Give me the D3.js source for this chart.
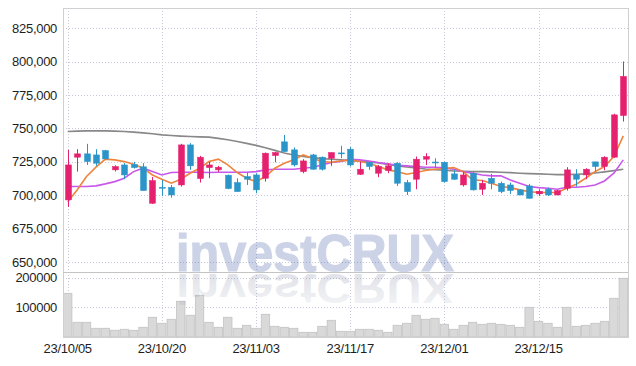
<!DOCTYPE html>
<html>
<head>
<meta charset="utf-8">
<script src="https://cdn.jsdelivr.net/npm/d3@7"></script>
<style>
body { margin: 0; background: #fff; }
svg { display: block; }
text { font-family: "Liberation Sans", Arial, sans-serif; }
</style>
</head>
<body>
<svg></svg>
<script>
var width = 636,
    height = 366;

var dates = ["23/10/05","23/10/06","23/10/10","23/10/11","23/10/12","23/10/13","23/10/16","23/10/17","23/10/18","23/10/19",
  "23/10/20","23/10/23","23/10/24","23/10/25","23/10/26","23/10/27","23/10/30","23/10/31","23/11/01","23/11/02",
  "23/11/03","23/11/06","23/11/07","23/11/08","23/11/09","23/11/10","23/11/13","23/11/14","23/11/15","23/11/16",
  "23/11/17","23/11/20","23/11/21","23/11/22","23/11/23","23/11/24","23/11/27","23/11/28","23/11/29","23/11/30",
  "23/12/01","23/12/04","23/12/05","23/12/06","23/12/07","23/12/08","23/12/11","23/12/12","23/12/13","23/12/14",
  "23/12/15","23/12/18","23/12/19","23/12/20","23/12/21","23/12/22","23/12/26","23/12/27","23/12/28","24/01/02"];

var open  = [696500,728500,731000,730200,733500,719000,722700,723000,721300,694000,
             706000,706000,707700,737700,712500,720700,719000,715000,709500,714000,
             715200,712700,729700,740000,734000,717700,730200,728500,727700,731700,
             734500,715700,724700,716500,718500,724000,709500,712000,727000,724900,
             724700,716000,707700,716500,704500,712700,709000,707700,704000,707000,
             701000,704500,700200,705200,715200,715200,725000,721500,728500,759700];
var high  = [734000,734500,738500,734500,734000,722400,724000,725000,724000,713700,
             711500,707700,738500,739000,729500,725000,722000,715500,712700,717000,
             716500,732000,732500,745200,735700,727000,731000,729000,732000,737000,
             736000,725200,725200,722700,724000,724700,711500,729000,731500,727700,
             725200,719000,717700,717700,711500,716000,710200,709500,704500,708500,
             704500,705700,704000,721000,719500,720200,725000,729200,761000,800200];
var low   = [691300,717700,722700,722000,727000,717800,712000,720000,703400,693500,
             699500,698200,706500,719000,709500,712700,717500,704500,702700,707700,
             701500,710200,724700,732700,721500,716500,719000,718500,722000,727700,
             721500,715200,719000,713500,716500,707000,700200,704500,722700,720200,
             709500,711500,706500,703500,700200,704500,701500,701000,700000,697500,
             699500,699500,700000,703500,706500,712000,717700,718700,728000,755200];
var close = [722700,731000,725200,724000,727200,721500,715200,720700,703500,711000,
             705800,700200,737700,722000,728500,722700,721000,705000,702700,712000,
             704000,731500,732000,732700,722700,725700,719500,719500,732000,731300,
             722700,719500,721500,721500,722000,709000,702700,727000,729000,724600,
             710200,712000,715200,704000,709000,709000,702700,703500,700200,697700,
             703000,700200,703500,719000,712000,719500,721500,728500,760200,789000];

var ma5  = [695200,704000,714000,721000,727000,726500,725200,723250,720250,715200,
            712000,709000,712000,716500,720250,725200,727000,722700,717000,712750,
            710200,714000,720250,724000,726500,730200,727750,725200,724750,725700,
            726500,725250,724000,721500,719000,717700,715750,717000,718500,719500,
            720000,720700,717700,711500,711000,709000,706500,705700,704000,702700,
            702000,702000,702000,705250,708250,712750,717700,721500,729000,744500];
var ma20 = [706500,706500,706500,707000,708500,710200,712750,717700,720250,717700,
            715200,717000,717250,717250,717250,717000,717250,717250,717250,717250,
            717700,719000,719500,719500,719500,720250,721000,722700,724500,725250,
            727000,726500,725700,724500,723500,722500,722000,721500,721000,721000,
            720500,719500,717700,716500,715200,714500,714500,711500,709000,706500,
            705700,705250,704500,706000,706000,706500,707700,710700,716500,726500];
var ma60 = [747700,748000,748200,748200,748200,748000,747700,747250,746700,746000,
            745200,744700,744250,743950,743700,743500,742600,741500,740200,738850,
            737350,735500,733600,731700,730200,729100,728200,727450,727000,726500,
            725950,725500,725000,724200,723100,722000,721200,720500,719700,719200,
            718750,718200,718000,717700,717700,717500,717250,716950,716500,716200,
            716000,715750,715450,715450,715750,716000,716700,717500,718450,719500];

var volume = [147900,49800,49800,29500,29500,22700,26100,22700,32800,66700,
              46400,59900,120800,73500,141200,49800,32800,66700,29500,39600,
              29500,76800,36200,32800,29500,15900,15900,36200,56500,19300,
              19300,26100,26100,22700,15900,39600,46400,73500,59900,63300,
              43000,26100,39600,49800,43000,46400,43000,39600,32800,100500,
              53100,46400,32800,100500,36200,39600,46400,53100,131000,198700];

var priceTicks = [650000,675000,700000,725000,750000,775000,800000,825000];
var volTicks = [100000,200000];
var dateTicks = ["23/10/05","23/10/20","23/11/03","23/11/17","23/12/01","23/12/15"];

var pLeft = 63, pRight = 628, pTop = 8, pMid = 272, pBottom = 337;

var svg = d3.select('svg')
  .attr("width", width)
  .attr("height", height);

var x = d3.scaleBand().domain(dates).range([pLeft, pRight]);
function cx(d) { return x(d) + x.bandwidth() / 2; }

var y = d3.scaleLinear().domain([642500, 840250]).range([pMid, pTop]);
var yv = d3.scaleLinear().domain([0, 220000]).range([pBottom, pMid]);

var grid = svg.append("g")
  .attr("stroke", "#c6cadc")
  .attr("stroke-dasharray", "1,2");

grid.selectAll(".hp")
  .data(priceTicks)
  .enter().append("line")
    .attr("x1", pLeft).attr("x2", pRight)
    .attr("y1", function(d){ return Math.round(y(d)) + 0.5; })
    .attr("y2", function(d){ return Math.round(y(d)) + 0.5; });

grid.selectAll(".hv")
  .data(volTicks)
  .enter().append("line")
    .attr("x1", pLeft).attr("x2", pRight)
    .attr("y1", function(d){ return Math.round(yv(d)) + 0.5; })
    .attr("y2", function(d){ return Math.round(yv(d)) + 0.5; });

grid.selectAll(".vx")
  .data(dateTicks)
  .enter().append("line")
    .attr("x1", function(d){ return Math.round(cx(d)) + 0.5; })
    .attr("x2", function(d){ return Math.round(cx(d)) + 0.5; })
    .attr("y1", pTop).attr("y2", pBottom);

// volume bars
svg.append("g").selectAll("rect")
  .data(volume)
  .enter().append("rect")
    .attr("x", function(d, i){ return cx(dates[i]) - 4.2; })
    .attr("width", 8.4)
    .attr("y", function(d){ return yv(d); })
    .attr("height", function(d){ return pBottom - yv(d); })
    .attr("fill", "#d9d9d9")
    .attr("stroke", "#c2c2c2")
    .attr("stroke-width", 0.8);

// moving averages
var line = d3.line()
  .x(function(d, i){ return cx(dates[i]); })
  .y(function(d){ return y(d); });

svg.append("path").datum(ma60).attr("d", line)
  .attr("fill", "none").attr("stroke", "#888888").attr("stroke-width", 1.6);
svg.append("path").datum(ma20).attr("d", line)
  .attr("fill", "none").attr("stroke", "#c957ec").attr("stroke-width", 1.6);
svg.append("path").datum(ma5).attr("d", line)
  .attr("fill", "none").attr("stroke", "#f0843e").attr("stroke-width", 1.6);

// candles
var upCol = "#e5206e", downCol = "#2b95c9";
var candles = svg.append("g").selectAll("g")
  .data(dates)
  .enter().append("g")
    .attr("fill", function(d, i){ return close[i] >= open[i] ? upCol : downCol; })
    .attr("stroke", function(d, i){ return close[i] >= open[i] ? upCol : downCol; });

candles.append("line")
  .attr("x1", function(d){ return Math.round(cx(d)) + 0.5; })
  .attr("x2", function(d){ return Math.round(cx(d)) + 0.5; })
  .attr("y1", function(d, i){ return y(high[i]); })
  .attr("y2", function(d, i){ return y(low[i]); })
  .attr("stroke-width", 1);

candles.append("rect")
  .attr("x", function(d){ return Math.round(cx(d)) - 2.5; })
  .attr("width", 6)
  .attr("y", function(d, i){ return y(Math.max(open[i], close[i])); })
  .attr("height", function(d, i){ return Math.max(1, y(Math.min(open[i], close[i])) - y(Math.max(open[i], close[i]))); })
  .attr("stroke-width", 0.5);

// frame
svg.append("rect")
  .attr("x", pLeft + 0.5).attr("y", pTop + 0.5)
  .attr("width", pRight - pLeft).attr("height", pBottom - pTop)
  .attr("fill", "none").attr("stroke", "#d0d0d0");
svg.append("line")
  .attr("x1", pLeft).attr("x2", pRight)
  .attr("y1", pMid + 0.5).attr("y2", pMid + 0.5)
  .attr("stroke", "#c4c4c4");

// axis labels
svg.append("g").selectAll("text")
  .data(priceTicks)
  .enter().append("text")
    .attr("x", 57)
    .attr("y", function(d){ return y(d); })
    .attr("dy", "0.35em")
    .attr("text-anchor", "end")
    .attr("font-size", 13)
    .attr("letter-spacing", "-0.3")
    .attr("fill", "#1e1e1e")
    .text(d3.format(","));

svg.append("g").selectAll("text")
  .data(volTicks)
  .enter().append("text")
    .attr("x", 57)
    .attr("y", function(d){ return yv(d); })
    .attr("dy", "0.35em")
    .attr("text-anchor", "end")
    .attr("font-size", 13)
    .attr("letter-spacing", "-0.3")
    .attr("fill", "#1e1e1e")
    .text(function(d){ return d; });

svg.append("g").selectAll("text")
  .data(dateTicks)
  .enter().append("text")
    .attr("x", function(d){ return cx(d); })
    .attr("y", 353)
    .attr("text-anchor", "middle")
    .attr("font-size", 13)
    .attr("letter-spacing", "-0.3")
    .attr("fill", "#1e1e1e")
    .text(function(d){ return d; });

// watermark with reflection
var defs = svg.append("defs");
var grad = defs.append("linearGradient")
  .attr("id", "refl").attr("x1", 0).attr("y1", 0).attr("x2", 0).attr("y2", 1);
grad.append("stop").attr("offset", "0%").attr("stop-color", "#6d7393").attr("stop-opacity", 0.06);
grad.append("stop").attr("offset", "100%").attr("stop-color", "#6d7393").attr("stop-opacity", 0.24);

svg.append("text")
  .attr("x", 176).attr("y", 270.5)
  .attr("font-size", 51).attr("font-weight", "bold")
  .attr("textLength", 278).attr("lengthAdjust", "spacingAndGlyphs")
  .attr("fill", "#1f3c96").attr("stroke", "#1f3c96").attr("stroke-width", 1.2)
  .attr("opacity", 0.22)
  .text("investCRUX");

svg.append("text")
  .attr("transform", "translate(0,273.5) scale(1,-0.85) translate(0,-270.5)")
  .attr("x", 176).attr("y", 270.5)
  .attr("font-size", 51).attr("font-weight", "bold")
  .attr("textLength", 278).attr("lengthAdjust", "spacingAndGlyphs")
  .attr("fill", "url(#refl)")
  .text("investCRUX");
</script>
</body>
</html>
